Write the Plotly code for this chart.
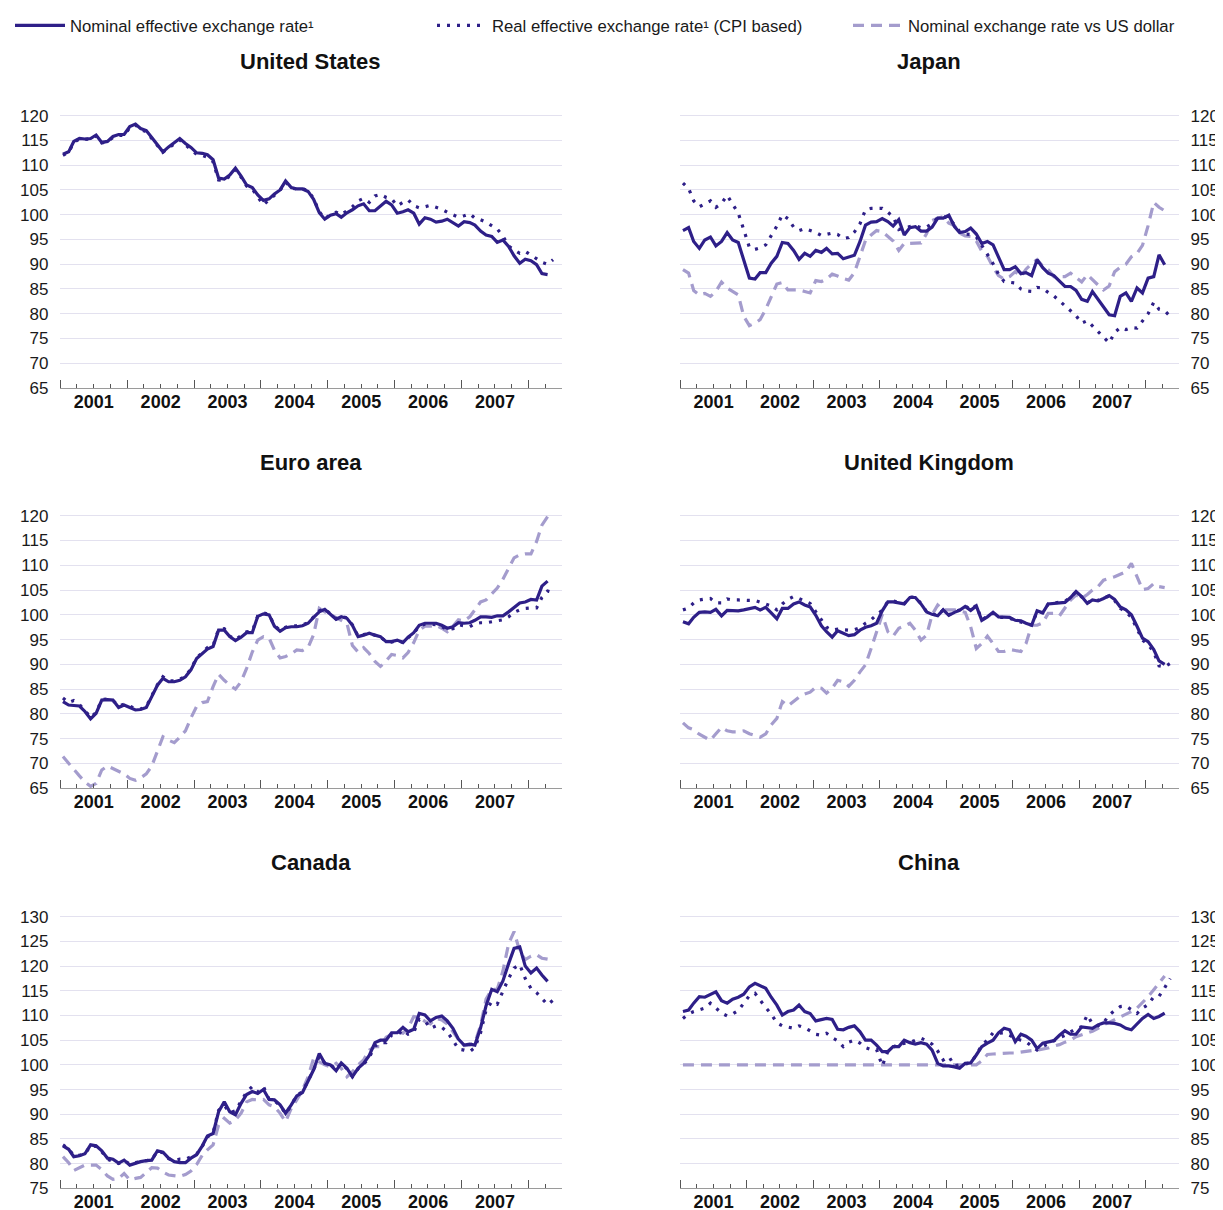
import plotly.graph_objects as go
import pandas as pd

FONT = "Liberation Sans, Arial, Helvetica, sans-serif"
C_NOM = "#2e1f88"
C_USD = "#a49ccd"
GRID = "#e3e1ef"

# monthly observations starting January 2001 (plotted mid-month)
MONTHS = [d.strftime("%Y-%m-15") for d in pd.date_range("2001-01-01", periods=89, freq="MS")]

LABEL_NOM = "Nominal effective exchange rate¹"
LABEL_REAL = "Real effective exchange rate¹ (CPI based)"
LABEL_USD = "Nominal exchange rate vs US dollar"

# ---------------- United States ----------------
us_nom = [112.2, 112.7, 114.8, 115.4, 115.3, 115.4, 116.1, 114.6, 114.8, 115.8, 116.2, 116.2,
          117.8, 118.3, 117.4, 117.0, 115.6, 114.1, 112.7, 113.7, 114.6, 115.4, 114.4, 113.6,
          112.5, 112.4, 112.1, 111.1, 107.4, 107.2, 108.0, 109.4, 107.8, 106.0, 105.5, 104.0,
          102.9, 103.2, 104.2, 105.0, 106.8, 105.5, 105.2, 105.2, 104.7, 103.1, 100.4, 99.1,
          99.9, 100.2, 99.5, 100.4, 101.0, 101.8, 102.2, 100.8, 100.8, 101.8, 102.7, 102.0,
          100.3, 100.6, 101.0, 100.3, 98.1, 99.4, 99.1, 98.5, 98.7, 99.1, 98.4, 97.7,
          98.6, 98.4, 97.9, 96.7, 95.9, 95.6, 94.4, 94.9, 93.6, 91.7, 90.2, 91.0,
          90.7, 89.9, 88.1, 87.9]
us_real = [112.0, 112.6, 114.6, 115.3, 115.2, 115.3, 115.9, 114.5, 114.8, 115.6, 116.0, 116.0,
           117.6, 118.1, 117.2, 116.8, 115.4, 113.9, 112.6, 113.5, 114.4, 115.1, 114.1, 113.2,
           112.2, 112.0, 111.6, 110.7, 107.0, 106.9, 107.8, 109.1, 107.6, 105.8, 105.2, 103.6,
           102.0, 103.0, 104.0, 104.9, 106.6, 105.4, 105.2, 105.3, 104.8, 103.3, 100.6, 99.2,
           100.0, 100.5, 100.0, 100.8, 101.6, 102.8, 103.3, 102.5, 103.8, 104.1, 103.5, 103.2,
           101.8, 102.5, 103.0, 101.8, 101.4, 101.6, 101.9, 101.5, 101.1, 100.5, 100.0, 99.5,
           99.8, 100.2, 99.3, 99.0, 98.5, 97.8, 97.1, 95.7, 93.7, 92.9, 92.2, 92.6,
           91.8, 91.0, 90.4, 90.0, 90.9]

# ---------------- Japan ----------------
jp_nom = [96.8, 97.4, 94.6, 93.2, 94.9, 95.5, 93.7, 94.6, 96.4, 94.9, 94.4, 91.0,
          87.2, 87.0, 88.3, 88.3, 90.2, 91.6, 94.4, 94.2, 92.8, 91.0, 92.2, 91.6,
          92.8, 92.4, 93.2, 92.1, 92.2, 91.1, 91.4, 91.8, 94.6, 97.9, 98.5, 98.6,
          99.2, 98.6, 97.7, 99.0, 95.9, 97.4, 97.6, 96.7, 96.7, 97.5, 99.3, 99.3,
          99.9, 97.6, 96.4, 96.6, 97.3, 96.1, 94.2, 94.6, 93.9, 91.6, 88.9, 88.9,
          89.5, 88.1, 88.3, 87.7, 90.9, 89.3, 88.2, 87.7, 86.5, 85.5, 85.5, 84.7,
          82.9, 82.5, 84.5, 82.9, 81.5, 79.8, 79.6, 83.5, 84.2, 82.5, 85.2, 84.2,
          87.2, 87.5, 91.9, 89.9]
jp_real = [106.4, 105.3, 102.8, 101.6, 102.2, 102.8, 101.5, 102.3, 103.9, 102.0, 100.3, 97.0,
           93.4, 93.0, 93.3, 93.9, 95.8, 97.7, 100.0, 99.2, 97.5, 96.8, 97.2, 96.8,
           96.4, 95.8, 96.1, 96.3, 96.0, 95.2, 95.4, 96.5, 98.2, 101.0, 101.3, 101.3,
           101.3, 100.5, 99.6, 97.0, 97.4, 97.6, 97.8, 97.4, 97.5, 98.2, 99.4, 99.6,
           99.3, 98.0, 96.6, 96.1, 96.0, 95.5, 93.9, 92.0, 90.1, 88.0, 86.5, 86.4,
           86.2, 85.0, 84.6, 84.5, 85.3, 85.2, 84.3, 83.6, 82.6, 81.8, 80.6, 79.6,
           78.1, 78.6, 77.6, 76.3, 75.3, 74.1, 76.2, 77.2, 76.8, 77.2, 77.1, 78.6,
           80.0, 82.3, 80.9, 80.6, 79.5]
jp_usd = [88.9, 88.2, 84.7, 83.8, 84.1, 83.5, 84.5, 86.4, 85.2, 84.5, 83.8, 79.5,
          77.6, 78.1, 78.8, 80.9, 83.4, 86.0, 86.3, 84.8, 84.8, 84.8, 84.5, 84.2,
          86.7, 86.5, 87.0, 88.0, 87.6, 87.1, 86.8, 88.3, 91.6, 94.8, 95.9, 96.8,
          96.6, 95.7, 94.7, 92.8, 94.2, 94.2, 94.2, 94.3, 96.2, 98.8, 99.3, 99.6,
          98.3, 97.8, 96.3, 95.7, 95.6, 94.7, 92.6, 91.6, 89.4, 87.7, 87.0, 87.5,
          88.5, 87.5, 89.0, 90.1, 90.9, 89.6, 88.9, 87.5, 87.5, 87.5, 88.2, 87.3,
          86.4, 87.9, 86.8, 85.8, 84.8, 85.6, 88.5, 89.4, 90.0, 91.5, 92.2, 93.8,
          97.8, 102.5, 101.5, 100.8]

# ---------------- Euro area ----------------
ea_nom = [82.5, 81.8, 81.7, 81.6, 80.5, 79.0, 80.1, 82.8, 82.9, 82.8, 81.3, 81.8,
          81.3, 80.8, 80.9, 81.3, 83.5, 85.8, 87.2, 86.5, 86.5, 86.8, 87.5, 88.9,
          91.2, 92.2, 93.1, 93.6, 96.9, 96.9, 95.6, 94.8, 95.5, 96.4, 96.4, 99.7,
          100.2, 100.0, 97.7, 96.7, 97.4, 97.6, 97.6, 97.8, 98.3, 99.5, 100.6, 101.1,
          100.0, 99.1, 99.6, 99.3, 97.9, 95.6, 95.9, 96.3, 95.9, 95.6, 94.6, 94.6,
          94.9, 94.4, 95.5, 96.4, 97.9, 98.3, 98.3, 98.3, 97.9, 97.3, 97.6, 98.4,
          98.3, 98.4, 98.9, 99.6, 99.6, 99.5, 99.8, 99.8, 100.6, 101.5, 102.4, 102.6,
          103.1, 103.0, 105.8, 106.8]
ea_real = [83.2, 82.3, 82.7, 81.9, 80.7, 79.3, 80.3, 82.9, 83.0, 82.7, 81.6, 82.0,
           81.6, 81.0, 81.0, 81.5, 83.7, 85.9, 87.5, 86.7, 86.7, 87.0, 87.6, 89.1,
           91.3, 92.3, 93.4, 93.8, 97.1, 97.2, 95.7, 95.0, 95.8, 96.6, 96.7, 99.8,
           100.4, 100.1, 97.8, 96.9, 97.5, 97.8, 97.8, 98.0, 98.4, 99.7, 100.8, 101.2,
           100.1, 99.2, 99.7, 99.4, 98.0, 95.7, 96.0, 96.3, 95.9, 95.5, 94.6, 94.5,
           94.9, 94.4, 95.4, 96.3, 97.7, 98.1, 98.1, 98.0, 97.6, 97.0, 97.2, 98.0,
           97.8, 97.6, 98.2, 98.4, 98.4, 98.6, 98.8, 99.0, 99.6, 100.5, 101.0, 101.3,
           101.4, 101.4, 103.5, 104.8, 104.5]
ea_usd = [71.4, 70.0, 68.9, 67.5, 66.3, 65.4, 66.0, 68.7, 69.5, 69.0, 68.4, 67.9,
          67.0, 66.6, 67.1, 67.9, 69.5, 72.6, 75.4, 74.7, 74.2, 75.3, 76.6, 79.2,
          81.5, 82.3, 82.5, 85.5, 88.0, 86.8, 85.8, 85.0, 86.5, 89.2, 92.5, 94.9,
          95.6, 95.3, 92.9, 91.3, 91.6, 92.1, 92.9, 92.8, 93.4, 96.0, 101.3, 100.6,
          100.0, 99.3, 98.9, 98.3, 93.8, 92.5, 93.4, 92.2, 90.6, 89.6, 90.7, 92.0,
          91.8, 91.3, 92.4, 94.4, 96.9, 97.7, 97.7, 97.9, 97.3, 96.6, 97.7, 99.0,
          98.8, 99.6, 101.0, 102.6, 103.0, 104.2, 105.4, 107.2, 109.5, 111.5, 112.1, 112.3,
          112.3, 114.8, 118.1, 119.8]

# ---------------- United Kingdom ----------------
uk_nom = [98.6, 98.2, 99.5, 100.5, 100.6, 100.5, 101.1, 99.8, 100.9, 100.9, 100.8, 101.0,
          101.3, 101.5, 101.0, 101.5, 100.4, 99.2, 101.3, 101.3, 102.2, 102.6, 102.0, 101.6,
          99.9, 97.8, 96.6, 95.5, 96.8, 96.3, 95.8, 96.0, 96.9, 97.5, 97.8, 98.3,
          100.8, 102.6, 102.6, 102.4, 102.2, 103.5, 103.5, 102.2, 100.6, 100.1, 99.8, 101.0,
          99.9, 100.5, 100.9, 101.7, 100.9, 101.8, 98.9, 99.6, 100.5, 99.6, 99.6, 99.5,
          98.9, 98.8, 98.3, 97.9, 100.8, 100.4, 102.2, 102.3, 102.3, 102.5, 103.5, 104.7,
          103.7, 102.3, 103.0, 102.8, 103.3, 103.9, 103.1, 101.6, 101.0, 100.0, 97.7, 95.3,
          94.6, 93.0, 90.7, 90.0]
uk_real = [101.0, 101.4, 102.4, 103.0, 103.2, 103.3, 102.4, 102.4, 103.2, 103.0, 103.0, 102.9,
           102.9, 102.9, 102.5, 102.2, 101.8, 101.0, 102.2, 103.1, 103.7, 103.3, 102.8, 102.3,
           100.6, 98.9, 97.5, 96.9, 97.1, 97.0, 96.9, 97.0, 97.4, 98.3, 99.0, 100.0,
           100.9, 102.7, 102.8, 102.5, 102.3, 103.6, 103.6, 102.3, 100.6, 100.2, 99.9, 101.0,
           100.0, 100.6, 101.0, 101.8, 101.0, 101.9, 99.0, 99.7, 100.3, 99.5, 99.5, 99.3,
           98.9, 98.6, 98.2, 98.0, 100.6, 100.4, 102.2, 102.4, 102.5, 102.7, 103.6, 104.6,
           103.6, 102.4, 103.0, 102.9, 103.4, 103.8, 102.9, 101.3, 100.6, 99.5, 97.2, 94.9,
           94.0, 92.5, 89.7, 89.5, 90.2]
uk_usd = [78.2, 77.2, 76.8, 75.9, 75.3, 74.7, 76.0, 77.3, 76.6, 76.4, 76.4, 76.6,
          76.0, 75.6, 75.3, 76.0, 77.8, 79.1, 82.5, 81.6, 82.6, 83.4, 84.0, 84.4,
          85.4, 85.2, 84.2, 85.2, 86.8, 86.5, 85.6, 86.8, 88.5, 89.9, 93.2, 96.6,
          100.0, 96.6, 95.7, 97.3, 97.7, 98.3, 96.9, 94.9, 95.9, 100.0, 102.0, 101.0,
          101.0, 101.0, 100.8, 100.5, 97.6, 93.2, 94.2, 95.7, 94.2, 92.6, 92.6, 93.0,
          92.8, 92.6, 94.2, 97.9, 97.9, 98.4, 100.3, 100.3, 99.8, 101.3, 103.0, 104.0,
          103.3, 104.1, 105.0, 105.7, 107.0, 107.4, 107.7, 108.2, 108.7, 110.4, 107.7, 105.1,
          105.3, 106.3, 105.7, 105.5]

# ---------------- Canada ----------------
ca_nom = [83.6, 82.9, 81.4, 81.6, 82.0, 83.8, 83.6, 82.6, 81.1, 80.9, 80.1, 80.7,
          79.7, 80.1, 80.4, 80.6, 80.7, 82.6, 82.3, 81.1, 80.4, 80.2, 80.2, 81.1,
          81.8, 83.6, 85.6, 86.1, 90.5, 92.5, 90.5, 89.9, 92.2, 94.0, 94.6, 94.2,
          95.0, 93.0, 92.9, 91.9, 90.2, 91.9, 93.7, 94.4, 96.6, 99.0, 102.3, 100.3,
          100.0, 98.8, 100.4, 99.3, 97.6, 99.3, 100.3, 101.9, 104.5, 105.0, 105.0, 106.5,
          106.5, 107.6, 106.7, 107.2, 110.4, 110.1, 108.9, 109.6, 109.9, 108.9, 107.4, 105.2,
          104.0, 104.2, 104.0, 107.5, 112.0, 115.3, 114.8, 117.0, 120.5, 123.6, 123.9, 120.0,
          118.6, 119.6, 118.2, 116.9]
ca_real = [83.8, 83.0, 81.6, 81.7, 82.0, 83.6, 83.5, 82.4, 80.9, 80.4, 80.0, 80.6,
           79.9, 80.2, 80.4, 80.6, 80.8, 82.5, 82.2, 81.0, 80.6, 80.9, 80.9, 81.4,
           81.9, 83.5, 85.4, 86.2, 90.8, 91.8, 90.3, 90.7, 92.6, 94.5, 95.6, 94.5,
           95.6, 93.0, 92.7, 91.8, 90.1, 91.8, 93.9, 94.5, 96.8, 99.0, 101.8, 100.4,
           100.1, 99.0, 100.3, 99.2, 97.6, 99.2, 100.1, 101.5, 103.8, 104.5, 104.5, 106.0,
           106.0, 107.1, 106.2, 106.6, 109.2, 108.9, 107.4, 107.9, 107.6, 106.7, 105.0, 103.2,
           103.0, 102.7, 103.5, 106.5, 111.1, 112.8, 112.3, 115.0, 117.5, 119.6, 120.3, 117.5,
           115.5, 114.6, 113.5, 112.2, 113.1]
ca_usd = [81.4, 80.2, 78.6, 79.1, 79.7, 79.7, 79.7, 78.8, 77.5, 76.8, 77.0, 78.0,
          76.7, 77.0, 77.2, 78.2, 79.2, 79.1, 78.3, 77.7, 77.5, 77.4, 77.8, 78.5,
          79.8, 81.7, 82.8, 83.8, 87.8, 89.2, 88.2, 88.8, 90.2, 92.5, 93.0, 92.9,
          93.0, 91.9, 91.5, 90.2, 88.5, 91.2, 92.9, 94.9, 97.6, 101.3, 100.6, 100.0,
          99.6, 100.3, 99.3, 97.6, 98.6, 100.0, 101.0, 103.0, 103.7, 103.7, 105.6, 106.2,
          106.7, 106.4, 107.4, 109.8, 109.6, 108.8, 108.3, 109.4, 109.1, 108.3, 106.7, 105.2,
          103.9, 104.0, 104.5, 108.0, 113.3, 115.3, 115.3, 119.0, 124.5, 127.0, 123.0, 121.3,
          122.0, 122.3, 121.6, 121.4]

# ---------------- China ----------------
cn_nom = [110.8, 111.1, 112.5, 113.8, 113.7, 114.3, 114.8, 113.0, 112.5, 113.3, 113.7, 114.3,
          115.8, 116.5, 116.0, 115.5, 113.7, 112.1, 110.1, 110.8, 111.1, 112.1, 110.8, 110.4,
          108.9, 109.2, 109.4, 109.2, 107.2, 107.1, 107.6, 107.9, 106.7, 105.0, 105.0, 104.0,
          102.7, 102.7, 103.7, 103.7, 105.0, 104.5, 104.2, 104.5, 104.2, 103.0, 100.3, 99.8,
          99.8, 99.6, 99.3, 100.3, 100.4, 102.0, 103.7, 104.4, 105.0, 106.5, 107.4, 107.1,
          104.7, 106.2, 105.8, 105.0, 103.3, 104.4, 104.7, 104.9, 106.0, 106.9, 106.2, 106.2,
          107.7, 107.6, 107.4, 108.1, 108.5, 108.5, 108.4, 108.1, 107.4, 107.1, 108.3, 109.4,
          110.2, 109.4, 109.8, 110.5]
cn_real = [109.4, 110.3, 110.8, 111.2, 111.5, 112.5, 111.5, 110.5, 109.9, 110.3, 111.0, 112.4,
           114.0, 114.5, 113.0, 111.6, 110.3, 108.5, 107.9, 107.6, 107.4, 107.9, 107.5, 106.9,
           106.2, 106.0, 106.4, 105.5, 104.9, 103.7, 104.6, 105.0, 104.4, 103.5, 103.1, 103.1,
           99.8, 102.7, 103.6, 104.2, 104.4, 104.5, 105.0, 105.4, 104.9, 104.2, 102.8, 101.0,
           101.7, 99.8, 100.0, 100.2, 100.4, 102.0, 104.0, 105.0, 106.5, 106.4, 106.5, 106.0,
           105.4, 105.0, 104.7, 103.8, 103.0, 103.7, 104.3, 105.0, 105.5, 106.0, 106.7, 107.3,
           107.7, 110.1, 108.3, 107.9, 108.5, 110.1, 111.0, 111.8, 111.9, 111.2, 110.4, 111.5,
           112.2, 113.8, 113.9, 115.6, 117.5]
cn_usd = [100.0, 100.0, 100.0, 100.0, 100.0, 100.0, 100.0, 100.0, 100.0, 100.0, 100.0, 100.0,
          100.0, 100.0, 100.0, 100.0, 100.0, 100.0, 100.0, 100.0, 100.0, 100.0, 100.0, 100.0,
          100.0, 100.0, 100.0, 100.0, 100.0, 100.0, 100.0, 100.0, 100.0, 100.0, 100.0, 100.0,
          100.0, 100.0, 100.0, 100.0, 100.0, 100.0, 100.0, 100.0, 100.0, 100.0, 100.0, 100.0,
          100.0, 100.0, 100.0, 100.0, 100.0, 100.0, 100.8, 102.1, 102.2, 102.3, 102.3, 102.4,
          102.4, 102.6, 102.7, 102.9, 103.0, 103.2, 103.4, 103.8, 104.1, 104.6, 105.0, 105.7,
          106.1, 106.4, 106.8, 107.4, 108.1, 108.6, 109.1, 109.7, 110.2, 110.8, 111.5, 112.6,
          113.8, 115.2, 116.6, 118.0]

PANELS = [
    ("United States", us_nom, us_real, None, 1, "left", [65, 122]),
    ("Japan", jp_nom, jp_real, jp_usd, 1, "right", [65, 122]),
    ("Euro area", ea_nom, ea_real, ea_usd, 2, "left", [65, 122]),
    ("United Kingdom", uk_nom, uk_real, uk_usd, 2, "right", [65, 122]),
    ("Canada", ca_nom, ca_real, ca_usd, 3, "left", [75, 131]),
    ("China", cn_nom, cn_real, cn_usd, 3, "right", [75, 131]),
]

# the page body has an 8px default margin, so the figure is 8px smaller
W, H = 1215, 1202
XDOM = {"left": [52.4 / W, 553.5 / W], "right": [672.4 / W, 1170.5 / W]}
YDOM = {1: [1 - 380.0 / H, 1 - 97.8 / H],
        2: [1 - 780.3 / H, 1 - 497.8 / H],
        3: [1 - 1180.3 / H, 1 - 903.8 / H]}
TITLE_Y = {1: 1 - 54 / H, 2: 1 - 454 / H, 3: 1 - 854 / H}

fig = go.Figure()
annotations = []
layout_axes = {}

for i, (title, nom, real, usd, row, col, yr) in enumerate(PANELS):
    n = i + 1
    xref = "x" if n == 1 else f"x{n}"
    yref = "y" if n == 1 else f"y{n}"
    show_leg = (title == "Japan")
    if usd is not None:
        fig.add_trace(go.Scatter(
            x=MONTHS[:len(usd)], y=usd, mode="lines", name=LABEL_USD,
            line=dict(color=C_USD, width=3.2, dash="11px,7px"),
            xaxis=xref, yaxis=yref, showlegend=show_leg, legend="legend3",
            hoverinfo="skip"))
    fig.add_trace(go.Scatter(
        x=MONTHS[:len(real)], y=real, mode="lines", name=LABEL_REAL,
        line=dict(color=C_NOM, width=3.2, dash="3px,7px"),
        xaxis=xref, yaxis=yref, showlegend=show_leg, legend="legend2",
        hoverinfo="skip"))
    fig.add_trace(go.Scatter(
        x=MONTHS[:len(nom)], y=nom, mode="lines", name=LABEL_NOM,
        line=dict(color=C_NOM, width=3.2),
        xaxis=xref, yaxis=yref, showlegend=show_leg, legend="legend",
        hoverinfo="skip"))

    xkey = "xaxis" if n == 1 else f"xaxis{n}"
    ykey = "yaxis" if n == 1 else f"yaxis{n}"
    layout_axes[xkey] = dict(
        domain=XDOM[col], anchor=yref, type="date",
        range=["2001-01-01", "2008-06-30"],
        tickmode="linear", tick0="2001-01-01", dtick="M12",
        tickformat="%Y", ticklabelmode="period",
        ticks="inside", ticklen=8, tickwidth=1, tickcolor="#555555",
        minor=dict(tickmode="linear", tick0="2001-01-01", dtick="M3",
                   ticks="inside", ticklen=4, tickwidth=1, tickcolor="#555555",
                   showgrid=False),
        showgrid=False, zeroline=False,
        showline=True, linecolor="#9a9a9a", linewidth=1,
        ticklabelstandoff=-3,
        tickfont=dict(family=FONT, size=18, color="#111111", weight="bold"),
        automargin=False, fixedrange=True,
    )
    layout_axes[ykey] = dict(
        domain=YDOM[row], anchor=xref, range=yr,
        tick0=yr[0], dtick=5, side=col,
        showgrid=True, gridcolor=GRID, gridwidth=1.3,
        zeroline=False, showline=False, ticks="",
        ticklabelstandoff=11,
        tickfont=dict(family=FONT, size=17, color="#1a1a1a"),
        automargin=False, fixedrange=True,
    )
    annotations.append(dict(
        text=title, xref="paper", yref="paper",
        x=(XDOM[col][0] + XDOM[col][1]) / 2, y=TITLE_Y[row],
        xanchor="center", yanchor="middle", showarrow=False,
        font=dict(family=FONT, size=22, color="#111111", weight="bold")))

LEG_COMMON = dict(orientation="h", xanchor="left", y=1.0, yanchor="top",
                  font=dict(family=FONT, size=16.7, color="#1a1a1a"),
                  itemwidth=50, bgcolor="rgba(0,0,0,0)", borderwidth=0)

fig.update_layout(
    width=W, height=H, autosize=False,
    margin=dict(l=0, r=0, t=0, b=0),
    paper_bgcolor="white", plot_bgcolor="white",
    font=dict(family=FONT, color="#1a1a1a"),
    annotations=annotations,
    legend=dict(x=2 / W, **LEG_COMMON),
    legend2=dict(x=424 / W, **LEG_COMMON),
    legend3=dict(x=840 / W, **LEG_COMMON),
    **layout_axes,
)

fig.write_html("out.html")
